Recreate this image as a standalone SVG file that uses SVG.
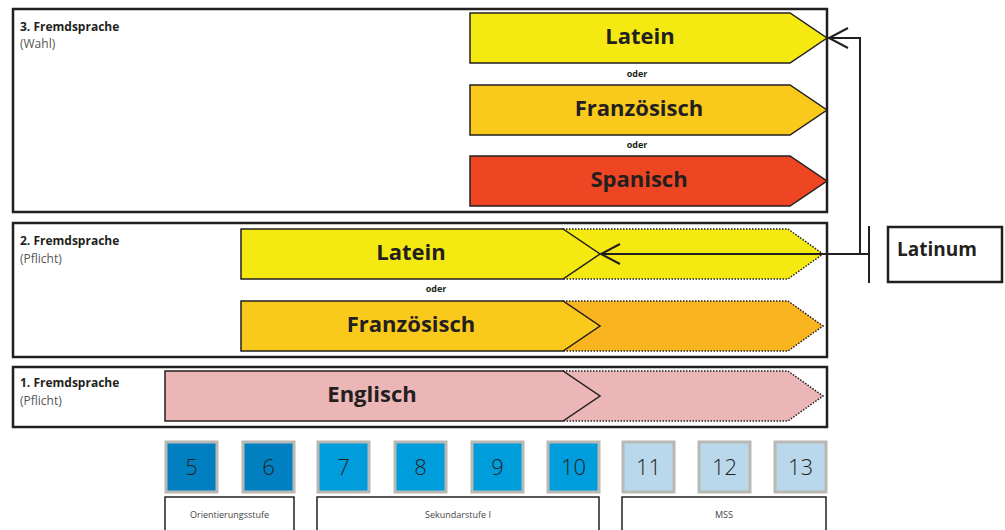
<svg xmlns="http://www.w3.org/2000/svg" width="1005" height="530" viewBox="0 0 1005 530">
<style>
.panel{fill:#fff;stroke:#231f20;stroke-width:2.5}
.arr{stroke:#231f20;stroke-width:1.5}
.dot{stroke:#231f20;stroke-width:1.5;stroke-dasharray:1.5 1.5}
.lat{fill:#f4ea12}
.fra{fill:#f9c91b}
.fra2{fill:#f9b520}
.spa{fill:#ee4623}
.eng{fill:#ebb6b5}
.big{font-family:"Open Sans","Noto Sans",sans-serif;font-weight:bold;font-size:22px;fill:#231f20;text-anchor:middle}
.ttl{font-family:"Open Sans","Noto Sans",sans-serif;font-weight:bold;font-size:12px;fill:#231f20}
.sub{font-family:"Open Sans","Noto Sans",sans-serif;font-size:12px;fill:#555}
.oder{font-family:"Open Sans","Noto Sans",sans-serif;font-weight:bold;font-size:9px;fill:#231f20;text-anchor:middle}
.num{stroke:#b9b8b3;stroke-width:3}
.n1{fill:#0080c0}
.n2{fill:#009ddc}
.n3{fill:#bad8eb}
.nt{font-family:"Open Sans","Noto Sans",sans-serif;font-weight:300;font-size:22px;fill:#231f20;text-anchor:middle}
.stage{fill:#fff;stroke:#231f20;stroke-width:1.5}
.st{font-family:"Open Sans","Noto Sans",sans-serif;font-size:9px;fill:#444;text-anchor:middle}
.line{fill:none;stroke:#231f20;stroke-width:2}
</style>

<g id="panel3">
<rect class="panel" x="13" y="9" width="814" height="203"/>
<text class="ttl" x="20" y="31">3. Fremdsprache</text>
<text class="sub" x="20" y="48">(Wahl)</text>
</g>
<g id="latein3">
<path class="lat arr" d="M470,13 H790 L827,38 L790,63 H470 Z"/>
<text class="big" x="640" y="44">Latein</text>
</g>
<text class="oder" x="637" y="77">oder</text>
<g id="franz3">
<path class="fra arr" d="M470,85 H790 L827,110 L790,135 H470 Z"/>
<text class="big" x="639" y="116">Französisch</text>
</g>
<text class="oder" x="637" y="148">oder</text>
<g id="spanisch3">
<path class="spa arr" d="M470,156 H790 L827,181 L790,206 H470 Z"/>
<text class="big" x="639" y="187">Spanisch</text>
</g>

<g id="panel2">
<rect class="panel" x="13" y="223" width="814" height="134"/>
<text class="ttl" x="20" y="245">2. Fremdsprache</text>
<text class="sub" x="20" y="263">(Pflicht)</text>
</g>
<g id="latein2">
<path class="lat dot" d="M563,229 H788 L823,254 L788,279 H563 Z"/>
<path class="lat arr" d="M241,229 H563 L600,254 L563,279 H241 Z"/>
<text class="big" x="411" y="260">Latein</text>
</g>
<text class="oder" x="436" y="292">oder</text>
<g id="franz2">
<path class="fra2 dot" d="M563,301 H788 L823,326 L788,351 H563 Z"/>
<path class="fra arr" d="M241,301 H563 L600,326 L563,351 H241 Z"/>
<text class="big" x="411" y="332">Französisch</text>
</g>

<g id="panel1">
<rect class="panel" x="13" y="367" width="814" height="60"/>
<text class="ttl" x="20" y="387">1. Fremdsprache</text>
<text class="sub" x="20" y="405">(Pflicht)</text>
</g>
<g id="englisch">
<path class="eng dot" d="M563,371 H788 L823,396 L788,421 H563 Z"/>
<path class="eng arr" d="M165,371 H563 L600,396 L563,421 H165 Z"/>
<text class="big" x="372" y="402">Englisch</text>
</g>

<g id="latinum">
<rect class="panel" x="888" y="227" width="114" height="55"/>
<text class="big" x="937" y="256" style="font-size:19px">Latinum</text>
</g>

<g id="connectors">
<line class="line" x1="869" y1="226" x2="869" y2="283"/>
<line class="line" x1="869" y1="254" x2="601" y2="254"/>
<path class="line" d="M620,244 L601,254 L620,264" stroke-width="2.5"/>
<path class="line" d="M860,254 V38 H829"/>
<path class="line" d="M848,28 L829,38 L848,48" stroke-width="2.5"/>
</g>

<g id="years">
<g id="y5"><rect class="num n1" x="166" y="442" width="51" height="50"/><text class="nt" x="191.5" y="475">5</text></g>
<g id="y6"><rect class="num n1" x="243" y="442" width="51" height="50"/><text class="nt" x="268.5" y="475">6</text></g>
<g id="y7"><rect class="num n2" x="318" y="442" width="51" height="50"/><text class="nt" x="343.5" y="475">7</text></g>
<g id="y8"><rect class="num n2" x="395" y="442" width="51" height="50"/><text class="nt" x="420.5" y="475">8</text></g>
<g id="y9"><rect class="num n2" x="472" y="442" width="51" height="50"/><text class="nt" x="497.5" y="475">9</text></g>
<g id="y10"><rect class="num n2" x="548" y="442" width="51" height="50"/><text class="nt" x="573.5" y="475">10</text></g>
<g id="y11"><rect class="num n3" x="623" y="442" width="51" height="50"/><text class="nt" x="648.5" y="475">11</text></g>
<g id="y12"><rect class="num n3" x="699" y="442" width="51" height="50"/><text class="nt" x="724.5" y="475">12</text></g>
<g id="y13"><rect class="num n3" x="775" y="442" width="51" height="50"/><text class="nt" x="800.5" y="475">13</text></g>
</g>

<g id="stages">
<g id="orientierung"><rect class="stage" x="165" y="497" width="129" height="40"/><text class="st" x="229.5" y="518">Orientierungsstufe</text></g>
<g id="sek1"><rect class="stage" x="317" y="497" width="282" height="40"/><text class="st" x="458" y="518">Sekundarstufe I</text></g>
<g id="mss"><rect class="stage" x="622" y="497" width="204" height="40"/><text class="st" x="724" y="518">MSS</text></g>
</g>
</svg>
